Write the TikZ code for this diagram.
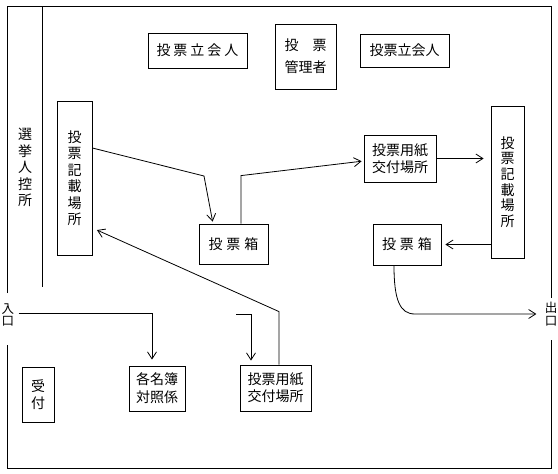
\documentclass[tikz,border=0pt]{standalone}
\usepackage{fontspec}
\setmainfont{Noto Sans CJK JP}
\usetikzlibrary{arrows.meta}

\newcommand{\jsp}[1][3pt]{\hspace{#1}}

\begin{document}
\begin{tikzpicture}[>={Straight Barb[length=7pt,width=9pt]}, x=1pt, y=-1pt, line width=0.8pt,
    box/.style={draw, inner sep=0pt, align=center, font=\fontsize{14pt}{17pt}\selectfont},
    vbox/.style={box, font=\fontsize{14pt}{16.5pt}\selectfont},
    door/.style={inner sep=0pt, align=center, font=\fontsize{12.5pt}{12.5pt}\selectfont},
    flow/.style={->, shorten >=#1}, flow/.default=0pt] % Setting global styles

    \useasboundingbox (0,0) rectangle (558,474);

    % 1. Walls of the room, open at the entrance and the exit
    \draw (7,293) -- (7,6) -- (551,6) -- (551,298);
    \draw (7,345) -- (7,468) -- (551,468) -- (551,340);
    \draw (42,6) -- (42,287); % waiting area partition

    % 2. Define Nodes
    \node[vbox, draw=none] (Hikae) at (25,167.5) {選\\挙\\人\\控\\所};
    \node[box, minimum width=99pt, minimum height=35pt] (TachiL) at (197.5,50.5) {投\jsp 票\jsp 立\jsp 会\jsp 人};
    \node[box, minimum width=61pt, minimum height=65pt, font=\fontsize{14pt}{22pt}\selectfont] (Kanri) at (305.5,56.5) {投　票\\管理者};
    \node[box, minimum width=89pt, minimum height=33pt] (TachiR) at (404.5,50.5) {投票立会人};
    \node[vbox, minimum width=35pt, minimum height=154pt] (KisaiL) at (74.5,178) {投\\票\\記\\載\\場\\所};
    \node[vbox, minimum width=33pt, minimum height=152pt, font=\fontsize{14pt}{15.6pt}\selectfont] (KisaiR) at (507.5,182) {投\\票\\記\\載\\場\\所};
    \node[box, minimum width=72pt, minimum height=47pt] (YoshiU) at (400,158.5) {投票用紙\\交付場所};
    \node[box, minimum width=69pt, minimum height=40pt] (HakoL) at (233.5,244) {投\jsp[4pt]票\jsp[4pt]箱};
    \node[box, minimum width=68pt, minimum height=41pt] (HakoR) at (407,244.5) {投\jsp[4pt]票\jsp[4pt]箱};
    \node[vbox, minimum width=32pt, minimum height=55pt] (Uke) at (38,394.5) {受\\付};
    \node[box, minimum width=56pt, minimum height=45pt, font=\fontsize{14pt}{18pt}\selectfont] (Meibo) at (157,388.5) {各名簿\\対照係};
    \node[box, minimum width=71pt, minimum height=46pt] (YoshiL) at (275.5,388) {投票用紙\\交付場所};
    \node[door] (In) at (8,315) {入\\口};
    \node[door] (Out) at (551,314) {出\\口};

    % 3. Draw the way of the voter
    \coordinate (BendA) at (204,176);
    \coordinate (Stub) at (236,314);
    \coordinate (Turn) at (415,314);

    \draw[flow=6pt, shorten <=4pt] ([yshift=2pt]In.east) -| ([xshift=-5pt]Meibo.north);
    \draw[flow=4pt] (Stub) -| ([xshift=-24.5pt]YoshiL.north);
    \draw[flow=5pt] ([xshift=3.5pt]YoshiL.north) -- ++(0,-53) -- ([yshift=-50pt]KisaiL.east);
    \draw[flow=2pt] ([yshift=30pt]KisaiL.east) -- (BendA) -- ([xshift=-20.5pt]HakoL.north);
    \draw[flow=2pt] ([xshift=7.5pt]HakoL.north) -- ++(0,-48) -- ([yshift=-2.5pt]YoshiU.west);
    \draw[flow=7pt] (YoshiU.east) -- (KisaiR.west |- YoshiU.east);
    \draw[flow=4pt] (KisaiR.west |- HakoR.east) -- (HakoR.east);
    % exit: the curve leaves the ballot box downwards
    \draw[flow=8pt] ([xshift=-13pt]HakoR.south) .. controls +(0,35) and +(-15,0) .. (Turn) -- (Out.west);
\end{tikzpicture}
\end{document}
